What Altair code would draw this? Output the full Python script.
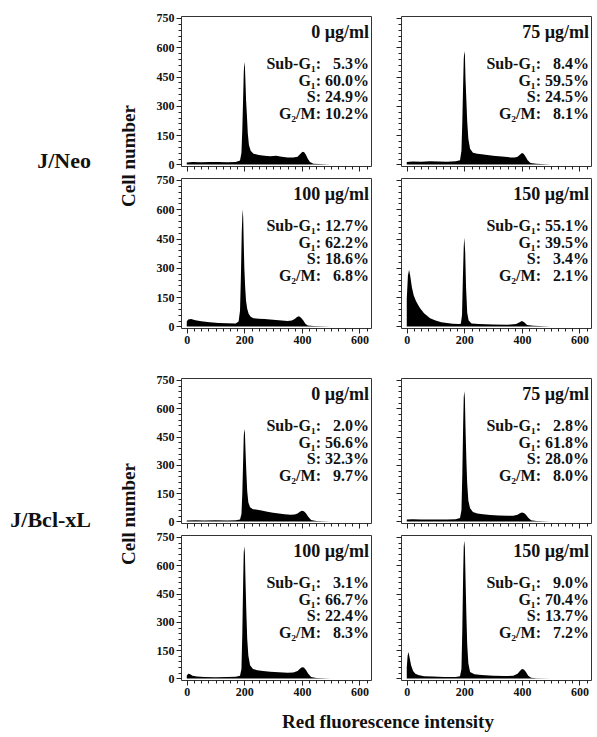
import altair as alt
import pandas as pd

FONT = "Liberation Serif"

# ---------------- data ----------------
# J/Neo 0 ug/ml
neo0_x = [0, 20, 50, 80, 110, 140, 170, 185, 190, 193, 196, 198, 200, 202, 204, 206, 209, 212, 216, 222, 232, 250, 270, 290, 310, 330, 350, 370, 385, 395, 402, 408, 414, 420, 428, 440, 460, 500, 635]
neo0_y = [10, 12, 11, 13, 12, 11, 13, 20, 60, 180, 350, 470, 525, 500, 420, 330, 250, 160, 100, 70, 55, 48, 44, 42, 45, 40, 36, 35, 40, 55, 65, 62, 50, 30, 12, 4, 2, 0, 0]
# J/Neo 75 ug/ml
neo75_x = [0, 20, 50, 80, 110, 140, 170, 185, 190, 193, 196, 198, 200, 202, 204, 207, 210, 214, 220, 230, 245, 260, 280, 300, 320, 340, 360, 375, 385, 393, 400, 406, 412, 420, 430, 450, 500, 635]
neo75_y = [12, 15, 14, 16, 15, 14, 16, 22, 70, 220, 420, 540, 580, 560, 440, 330, 220, 130, 80, 60, 55, 52, 48, 45, 42, 40, 36, 35, 40, 50, 58, 55, 42, 22, 8, 3, 0, 0]
# J/Neo 100 ug/ml
neo100_x = [0, 5, 15, 30, 50, 80, 110, 140, 170, 180, 185, 188, 191, 194, 196, 198, 200, 203, 206, 210, 215, 222, 232, 250, 270, 290, 310, 330, 350, 365, 375, 383, 390, 397, 405, 412, 420, 440, 500, 635]
neo100_y = [25, 35, 38, 32, 27, 22, 18, 16, 15, 25, 80, 250, 480, 600, 560, 420, 300, 200, 130, 90, 65, 50, 42, 40, 38, 35, 33, 30, 28, 30, 38, 48, 52, 45, 30, 14, 5, 2, 0, 0]
# J/Neo 150 ug/ml
neo150_x = [0, 4, 8, 12, 18, 24, 32, 40, 47, 60, 81, 100, 120, 139, 160, 180, 188, 192, 195, 198, 200, 203, 206, 210, 215, 225, 250, 300, 350, 380, 392, 400, 408, 418, 440, 500, 635]
neo150_y = [140, 260, 290, 260, 200, 160, 130, 108, 92, 68, 42, 30, 22, 17, 14, 12, 14, 60, 250, 410, 455, 380, 200, 70, 30, 15, 12, 10, 9, 12, 22, 28, 22, 8, 3, 0, 0]
# J/Bcl-xL 0 ug/ml
bcl0_x = [0, 30, 60, 100, 140, 170, 185, 190, 193, 196, 198, 200, 202, 204, 207, 210, 214, 220, 230, 245, 260, 280, 300, 320, 340, 360, 375, 385, 393, 400, 407, 414, 422, 432, 450, 500, 635]
bcl0_y = [5, 6, 5, 6, 5, 6, 10, 40, 150, 330, 450, 490, 470, 380, 260, 160, 100, 75, 65, 62, 58, 52, 46, 42, 38, 36, 37, 42, 52, 57, 54, 44, 25, 8, 2, 0, 0]
# J/Bcl-xL 75 ug/ml
bcl75_x = [0, 20, 50, 80, 110, 140, 170, 185, 190, 193, 196, 198, 200, 202, 204, 207, 210, 214, 220, 230, 245, 265, 290, 320, 350, 370, 385, 393, 400, 407, 414, 422, 432, 450, 500, 635]
bcl75_y = [10, 12, 10, 11, 10, 11, 12, 18, 60, 250, 520, 660, 690, 650, 500, 330, 200, 110, 70, 50, 42, 38, 34, 32, 30, 30, 36, 44, 48, 45, 36, 20, 6, 2, 0, 0]
# J/Bcl-xL 100 ug/ml
bcl100_x = [0, 5, 12, 20, 35, 60, 100, 140, 170, 185, 190, 193, 196, 198, 200, 202, 204, 207, 210, 214, 220, 230, 245, 265, 290, 320, 350, 370, 385, 393, 400, 407, 414, 422, 432, 450, 500, 635]
bcl100_y = [15, 25, 22, 14, 10, 8, 7, 8, 9, 14, 50, 240, 520, 670, 700, 660, 520, 350, 210, 120, 70, 50, 44, 40, 36, 33, 30, 32, 40, 52, 60, 58, 45, 25, 8, 2, 0, 0]
# J/Bcl-xL 150 ug/ml
bcl150_x = [0, 3, 6, 10, 15, 22, 30, 40, 60, 90, 130, 170, 185, 190, 193, 196, 198, 200, 202, 204, 207, 210, 214, 220, 235, 260, 300, 340, 370, 385, 393, 400, 407, 414, 422, 432, 450, 500, 635]
bcl150_y = [60, 120, 140, 110, 70, 40, 25, 18, 12, 10, 8, 8, 12, 50, 260, 560, 700, 730, 690, 540, 340, 180, 80, 35, 22, 18, 15, 13, 14, 25, 40, 50, 48, 35, 15, 4, 1, 0, 0]

concentrations = ["0 µg/ml", "75 µg/ml", "100 µg/ml", "150 µg/ml"]
phase_labels = ["Sub-G₁:", "G₁:", "S:", "G₂/M:"]
neo_stats = [["5.3%", "60.0%", "24.9%", "10.2%"],
             ["8.4%", "59.5%", "24.5%", "8.1%"],
             ["12.7%", "62.2%", "18.6%", "6.8%"],
             ["55.1%", "39.5%", "3.4%", "2.1%"]]
bcl_stats = [["2.0%", "56.6%", "32.3%", "9.7%"],
             ["2.8%", "61.8%", "28.0%", "8.0%"],
             ["3.1%", "66.7%", "22.4%", "8.3%"],
             ["9.0%", "70.4%", "13.7%", "7.2%"]]
cell_lines = ["J/Neo", "J/Bcl-xL"]
x_tick_values = list(range(0, 626, 25))
y_tick_values = list(range(0, 751, 30))
y_title = "Cell number"
x_title = "Red fluorescence intensity"

X_DOMAIN = [-20, 640]
Y_DOMAIN = [-8, 760]
W = 190
H_TOP = 150
H_BOT = 145


def make_panel(xs, ys, conc, stats, H, xlabels, ylabels, extras=()):
    df = pd.DataFrame({"x": xs, "y": ys})
    common = dict(grid=False, domain=False, title=None, labelFont=FONT,
                  labelFontWeight="bold", labelFontSize=12, labelColor="#111",
                  tickColor="#222", tickWidth=1, labelOverlap=False)
    xaxis = alt.Axis(values=x_tick_values, labels=xlabels,
                     labelExpr="datum.value % 200 === 0 ? datum.label : ''",
                     tickSize={"condition": {"test": "datum.value % 200 === 0", "value": 5}, "value": 3},
                     labelPadding=1, labelFlush=False, **common)
    yaxis = alt.Axis(values=y_tick_values, labels=ylabels,
                     labelExpr="datum.value % 150 === 0 ? datum.label : ''",
                     tickSize={"condition": {"test": "datum.value % 150 === 0", "value": 5}, "value": 3},
                     labelPadding=2, labelFlush=False, **common)
    area = alt.Chart(df).mark_area(color="black", interpolate="linear").encode(
        x=alt.X("x:Q", scale=alt.Scale(domain=X_DOMAIN, nice=False, zero=False), axis=xaxis),
        y=alt.Y("y:Q", scale=alt.Scale(domain=Y_DOMAIN, nice=False, zero=False), axis=yaxis),
        y2=alt.datum(0),
    )
    conc_text = alt.Chart(pd.DataFrame({"t": [conc]})).mark_text(
        align="right", baseline="middle", font=FONT, fontWeight="bold", fontSize=18, color="#111"
    ).encode(x=alt.value(188), y=alt.value(17), text="t:N")
    lines = []
    for lab, val in zip(phase_labels, stats):
        pad = "\u00a0\u00a0" if len(val) < 5 else ""
        lines.append(f"{lab} {pad}{val}")
    stats_text = alt.Chart(pd.DataFrame({"t": ["\n".join(lines)]})).mark_text(
        align="right", baseline="middle", font=FONT, fontWeight="bold", fontSize=16,
        lineBreak="\n", lineHeight=16.7, color="#111"
    ).encode(x=alt.value(188), y=alt.value(48), text="t:N")
    return alt.layer(area, conc_text, stats_text, *extras).properties(width=W, height=H)


def label_text(text, x, y, size=19, angle=0, align="right"):
    kw = dict(align=align, baseline="middle", font=FONT, fontWeight="bold", fontSize=size, color="#111")
    if angle:
        kw["angle"] = angle
    return alt.Chart(pd.DataFrame({"t": [text]})).mark_text(**kw).encode(
        x=alt.value(x), y=alt.value(y), text="t:N")


def spacer(h):
    return alt.Chart(pd.DataFrame({"t": [""]})).mark_text().encode(
        x=alt.value(0), y=alt.value(0), text="t:N"
    ).properties(width=W, height=h, view=alt.ViewBackground(strokeOpacity=0))


neo_data = [(neo0_x, neo0_y), (neo75_x, neo75_y), (neo100_x, neo100_y), (neo150_x, neo150_y)]
bcl_data = [(bcl0_x, bcl0_y), (bcl75_x, bcl75_y), (bcl100_x, bcl100_y), (bcl150_x, bcl150_y)]

neo_extras = [label_text(cell_lines[0], -90, 145, size=22),
              label_text(y_title, -52, 140, angle=270, align="center")]
bcl_extras = [label_text(cell_lines[1], -90, 142, size=22),
              label_text(y_title, -52, 136, angle=270, align="center")]
xtitle_extra = [label_text(x_title, 207, 187, align="center")]

panels = [
    make_panel(*neo_data[0], concentrations[0], neo_stats[0], H_TOP, False, True, neo_extras),
    make_panel(*neo_data[1], concentrations[1], neo_stats[1], H_TOP, False, False),
    make_panel(*neo_data[2], concentrations[2], neo_stats[2], H_TOP, True, True),
    make_panel(*neo_data[3], concentrations[3], neo_stats[3], H_TOP, True, False),
    spacer(26), spacer(26),
    make_panel(*bcl_data[0], concentrations[0], bcl_stats[0], H_BOT, False, True, bcl_extras),
    make_panel(*bcl_data[1], concentrations[1], bcl_stats[1], H_BOT, False, False),
    make_panel(*bcl_data[2], concentrations[2], bcl_stats[2], H_BOT, True, True, xtitle_extra),
    make_panel(*bcl_data[3], concentrations[3], bcl_stats[3], H_BOT, True, False),
]

chart = alt.concat(*panels, columns=2, spacing={"row": 12, "column": 30}, bounds="flush").properties(
    padding={"left": 9, "top": 11, "right": 2, "bottom": 2},
    background="white",
).configure_view(stroke="#333", strokeWidth=1)

chart.save("out.html", embed_options={"renderer": "svg", "actions": False})
